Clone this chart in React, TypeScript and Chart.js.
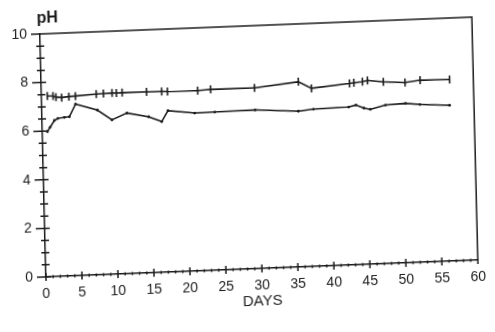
import { useEffect, useRef } from 'react';
import { Chart, registerables } from 'chart.js';

Chart.register(...registerables);

// ---- data ----
const upperDays = [0.8, 1.6, 2.0, 2.8, 3.8, 4.7, 7.6, 8.6, 9.8, 10.4, 11.2, 14.6, 16.7, 17.5, 21.7, 23.5, 29.6, 35.7, 37.5, 42.8, 43.4, 44.6, 45.3, 47.5, 50.5, 52.6, 56.7];
const upperPH = [7.44, 7.43, 7.38, 7.35, 7.38, 7.39, 7.44, 7.45, 7.46, 7.45, 7.46, 7.45, 7.44, 7.43, 7.42, 7.45, 7.44, 7.62, 7.33, 7.47, 7.49, 7.52, 7.56, 7.48, 7.42, 7.49, 7.47];

const lowerDays = [0.7, 1.1, 1.7, 2.2, 3.1, 3.8, 4.7, 7.7, 9.7, 11.8, 14.8, 16.6, 17.5, 21.2, 24.0, 29.6, 35.6, 37.7, 42.6, 43.6, 44.7, 45.6, 47.7, 50.5, 52.5, 56.6];
const lowerPH = [5.97, 6.15, 6.42, 6.5, 6.53, 6.55, 7.06, 6.78, 6.35, 6.61, 6.42, 6.2, 6.64, 6.5, 6.51, 6.53, 6.41, 6.47, 6.5, 6.57, 6.43, 6.37, 6.52, 6.56, 6.49, 6.41];

const xTicks = [0, 5, 10, 15, 20, 25, 30, 35, 40, 45, 50, 55, 60];
const yTicks = [0, 2, 4, 6, 8, 10];
const xTitle = 'DAYS';
const yTitle = 'pH';

const INK = '#1c1c1c';
const FONT = '"Liberation Sans", Arial, sans-serif';

const frameAndTicks = {
  id: 'frameAndTicks',
  afterDraw(chart: any) {
    const { ctx, chartArea: a, scales } = chart;
    const x = scales.x;
    const y = scales.y;
    ctx.save();
    ctx.strokeStyle = INK;
    ctx.lineWidth = 1.5;
    ctx.beginPath();
    ctx.moveTo(a.left, a.top);
    ctx.lineTo(a.right, a.top);
    ctx.lineTo(a.right, a.bottom);
    const yMax = yTicks[yTicks.length - 1];
    for (let i = 0; i <= yMax * 2; i++) {
      const v = i / 2;
      const p = y.getPixelForValue(v);
      const major = yTicks.includes(v);
      ctx.moveTo(a.left - (major ? 9 : 4), p);
      ctx.lineTo(a.left + (major ? 5 : 4), p);
    }
    const xMax = xTicks[xTicks.length - 1];
    for (let d = 0; d <= xMax; d++) {
      const p = x.getPixelForValue(d);
      const major = xTicks.includes(d);
      const h = major ? 4 : 1.5;
      ctx.moveTo(p, a.bottom - h);
      ctx.lineTo(p, a.bottom + h);
    }
    ctx.stroke();
    ctx.fillStyle = INK;
    ctx.font = 'bold 16px ' + FONT;
    ctx.textBaseline = 'alphabetic';
    ctx.textAlign = 'left';
    ctx.fillText(yTitle, a.left - 3, 23);
    ctx.restore();
  },
};

export default function App() {
  const ref = useRef<HTMLCanvasElement | null>(null);

  useEffect(() => {
    if (!ref.current) return;
    const chart = new Chart(ref.current, {
      type: 'line',
      data: {
        datasets: [
          {
            label: 'upper',
            data: upperDays.map((d, i) => ({ x: d, y: upperPH[i] })),
            borderColor: INK,
            borderWidth: 1.6,
            pointStyle: 'line',
            rotation: 90,
            pointRadius: 4,
            pointBorderWidth: 1.6,
            pointBorderColor: INK,
            pointBackgroundColor: INK,
            tension: 0,
            fill: false,
          },
          {
            label: 'lower',
            data: lowerDays.map((d, i) => ({ x: d, y: lowerPH[i] })),
            borderColor: INK,
            borderWidth: 1.6,
            pointStyle: 'circle',
            pointRadius: 1.4,
            pointBorderWidth: 0,
            pointBackgroundColor: INK,
            tension: 0,
            fill: false,
          },
        ],
      },
      options: {
        animation: false,
        responsive: false,
        maintainAspectRatio: false,
        devicePixelRatio: 1,
        layout: { padding: { left: 0, top: 34, right: 14, bottom: 0 } },
        plugins: { legend: { display: false }, tooltip: { enabled: false }, title: { display: false } },
        scales: {
          x: {
            type: 'linear',
            min: 0,
            max: 60,
            afterBuildTicks: (s: any) => { s.ticks = xTicks.map((v) => ({ value: v })); },
            afterFit: (s: any) => { s.height = 55; },
            grid: { display: false, drawTicks: false, tickLength: 0 },
            border: { display: true, color: INK, width: 1.5 },
            ticks: { color: INK, font: { family: FONT, size: 14 }, padding: 9, maxRotation: 0, autoSkip: false },
            title: { display: true, text: xTitle, color: INK, font: { family: FONT, size: 15 }, padding: { top: 0, bottom: 13 } },
          },
          y: {
            type: 'linear',
            min: 0,
            max: 10,
            afterBuildTicks: (s: any) => { s.ticks = yTicks.map((v) => ({ value: v })); },
            afterFit: (s: any) => { s.width = 46; },
            grid: { display: false, drawTicks: false, tickLength: 0 },
            border: { display: true, color: INK, width: 1.5 },
            ticks: { color: INK, font: { family: FONT, size: 14 }, padding: 13 },
          },
        },
      },
      plugins: [frameAndTicks],
    } as any);
    return () => chart.destroy();
  }, []);

  return (
    <div style={{ position: 'fixed', left: 0, top: 0, width: 495, height: 332, overflow: 'hidden', background: '#fff' }}>
      <canvas
        ref={ref}
        width={495}
        height={332}
        style={{
          display: 'block',
          width: 495,
          height: 332,
          transform: 'matrix(1, -0.0391, 0.0247, 1, 0, 0)',
          transformOrigin: '46px 277px',
        }}
      />
    </div>
  );
}
